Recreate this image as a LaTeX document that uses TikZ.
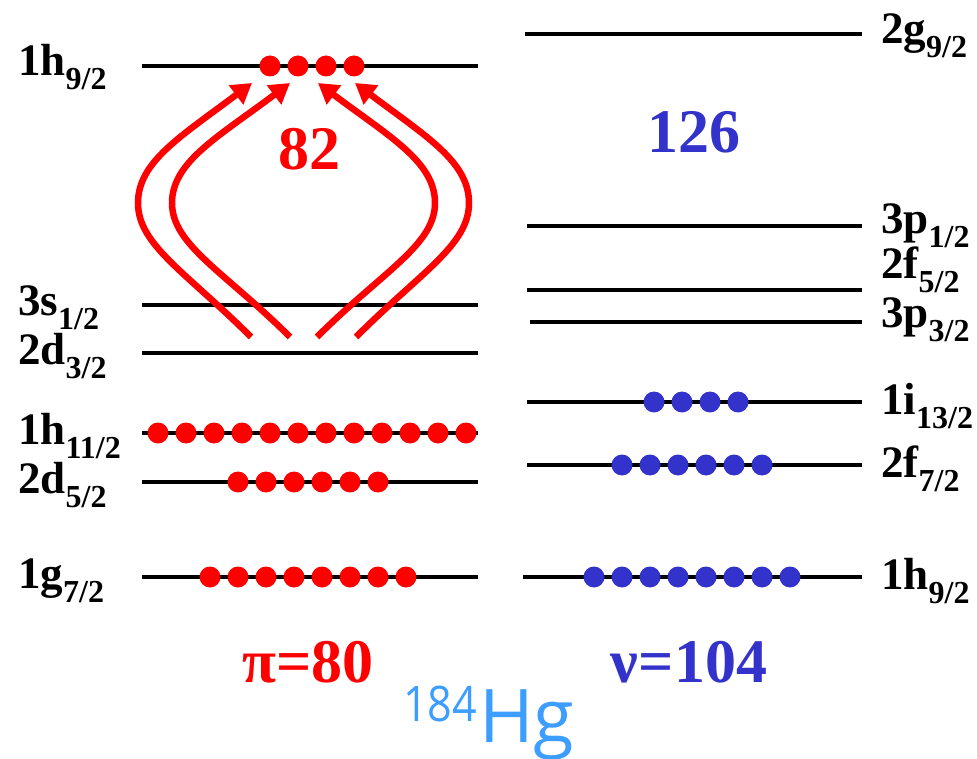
\documentclass[tikz,border=0pt]{standalone}
\usepackage{fontspec}
\setmainfont{Liberation Serif}
\newfontfamily\hgfont{Open Sans}
\usetikzlibrary{arrows.meta}
\definecolor{dotred}{HTML}{FF0000}
\definecolor{dotblue}{HTML}{3333CC}
\definecolor{hgblue}{HTML}{3D9EFF}
\newcommand{\orblab}[2]{\fontsize{45}{45}\selectfont\bfseries #1\raisebox{-14pt}{\fontsize{32}{32}\selectfont #2}}
\tikzset{
  level/.style={line width=4.5pt, black},
  pdot/.style={circle, fill=dotred, inner sep=0pt, minimum size=21pt},
  ndot/.style={circle, fill=dotblue, inner sep=0pt, minimum size=21pt},
  orb/.style={anchor=base west, inner sep=0pt},
  excite/.style={draw=dotred, line width=6.5pt, -{Triangle[length=20pt, width=23pt]}},
  bignum/.style={anchor=base, inner sep=0pt, font=\fontsize{62}{62}\selectfont\bfseries}
}
\begin{document}
\begin{tikzpicture}[x=1pt, y=-1pt]
\useasboundingbox (0,0) rectangle (977,759);
% proton levels
\foreach \n/\y in {p1/66, p2/305, p3/353, p4/433, p5/482, p6/577}{
  \coordinate (\n L) at (142,\y);
  \coordinate (\n R) at (478,\y);
  \draw[level] (\n L) -- (\n R);
}
% neutron levels
\foreach \n/\y/\xa in {n1/34/525, n2/226/527, n3/290/527, n4/322/530, n5/402/527, n6/465/527, n7/577/523}{
  \coordinate (\n L) at (\xa,\y);
  \coordinate (\n R) at (862,\y);
  \draw[level] (\n L) -- (\n R);
}
% proton labels
\node[orb] (lp1) at (18,76) {\orblab{1h}{9/2}};
\node[orb] (lp2) at (18,316) {\orblab{3s}{1/2}};
\node[orb] (lp3) at (18,364) {\orblab{2d}{3/2}};
\node[orb] (lp4) at (18,444) {\orblab{1h}{11/2}};
\node[orb] (lp5) at (18,493) {\orblab{2d}{5/2}};
\node[orb] (lp6) at (18,588) {\orblab{1g}{7/2}};
% neutron labels
\node[orb] (ln1) at (881,44) {\orblab{2g}{9/2}};
\node[orb] (ln2) at (881,234) {\orblab{3p}{1/2}};
\node[orb] (ln3) at (881,279) {\orblab{2f}{5/2}};
\node[orb] (ln4) at (881,327) {\orblab{3p}{3/2}};
\node[orb] (ln5) at (881,414) {\orblab{1i}{13/2}};
\node[orb] (ln6) at (881,477) {\orblab{2f}{7/2}};
\node[orb] (ln7) at (881,589) {\orblab{1h}{9/2}};
% proton dots
\foreach \i in {0,...,3}{\node[pdot] (da\i) at (270+28*\i,66) {};}
\foreach \i in {0,...,11}{\node[pdot] (db\i) at (158+28*\i,433) {};}
\foreach \i in {0,...,5}{\node[pdot] (dc\i) at (238+28*\i,482) {};}
\foreach \i in {0,...,7}{\node[pdot] (dd\i) at (210+28*\i,577) {};}
% neutron dots
\foreach \i in {0,...,3}{\node[ndot] (de\i) at (654+28*\i,402) {};}
\foreach \i in {0,...,5}{\node[ndot] (df\i) at (622+28*\i,465) {};}
\foreach \i in {0,...,7}{\node[ndot] (dg\i) at (594+28*\i,577) {};}
% excitation arrows
\coordinate (s1) at (251,337); \coordinate (m1) at (138,203); \coordinate (e1) at (252,83);
\coordinate (s2) at (290,337); \coordinate (m2) at (172,203); \coordinate (e2) at (290,83);
\coordinate (s3) at (317,337); \coordinate (m3) at (435,203); \coordinate (e3) at (318,83);
\coordinate (s4) at (356,337); \coordinate (m4) at (469,203); \coordinate (e4) at (355,83);
\draw[excite] (s1) .. controls (186,272) and (138,245) .. (m1)
                   .. controls (138,162) and (180,137) .. (e1);
\draw[excite] (s2) .. controls (225,272) and (172,245) .. (m2)
                   .. controls (172,162) and (218,137) .. (e2);
\draw[excite] (s3) .. controls (382,272) and (435,245) .. (m3)
                   .. controls (435,162) and (390,137) .. (e3);
\draw[excite] (s4) .. controls (421,272) and (469,245) .. (m4)
                   .. controls (469,162) and (427,137) .. (e4);
% numbers
\node[bignum, text=dotred] (g82) at (309,170) {82};
\node[bignum, text=dotblue] (g126) at (694,153) {126};
\node[bignum, text=dotred] (zp) at (308,682) {π=80};
\node[bignum, text=dotblue] (zn) at (689,682) {ν=104};
\node[anchor=base west, inner sep=0pt, text=hgblue] (hg) at (403,742)
  {\hgfont\raisebox{21pt}{\scalebox{0.88}[1]{\fontsize{49}{49}\selectfont 184}}\kern2pt\fontsize{74}{74}\selectfont Hg};
\end{tikzpicture}
\end{document}
